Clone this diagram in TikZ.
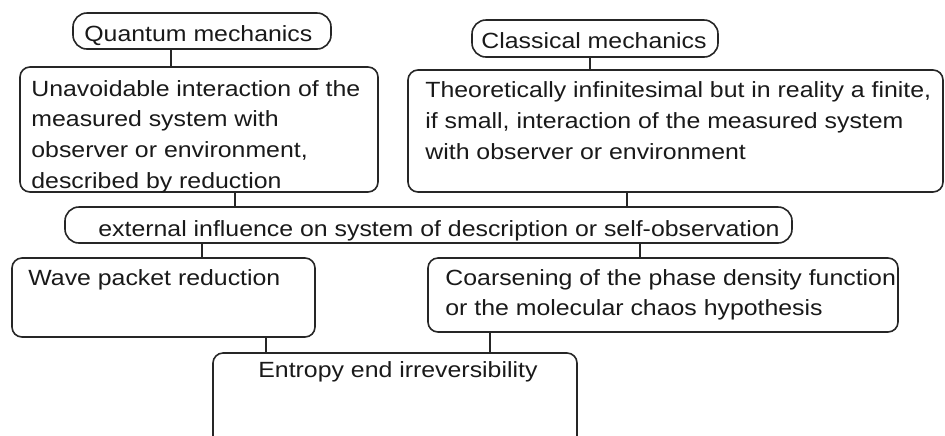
\documentclass[tikz,border=0pt]{standalone}
\usepackage{fontspec}
\setmainfont[FakeStretch=1.13]{Liberation Sans}
\usetikzlibrary{fit}
\begin{document}
\begin{tikzpicture}[x=0.5pt,y=-0.5pt,
  box/.style={draw=black!85, line width=0.8pt, rounded corners=5pt, inner sep=0pt},
  pill/.style={draw=black!85, line width=0.8pt, rounded corners=7pt, inner sep=0pt},
  txt/.style={anchor=base west, inner sep=0pt, text=black!90, font=\fontsize{11pt}{15pt}\selectfont},
  link/.style={draw=black!85, line width=0.8pt}]
\useasboundingbox (0,0) rectangle (945,435);
\clip (0,0) rectangle (945,435);
% boxes
\node[pill, fit={(73,13) (331,49)}] (q) {};
\node[pill, fit={(472,20) (718,57)}] (c) {};
\node[box, fit={(20,67) (378,192)}] (u) {};
\node[box, fit={(408,70) (943,192)}] (th) {};
\node[pill, fit={(65,207) (792,243)}] (e) {};
\node[box, fit={(12,258) (315,337)}] (w) {};
\node[box, fit={(428,258) (898,332)}] (co) {};
\node[box, fit={(213,353) (577,470)}] (en) {};
% texts
\node[txt] (tq) at (84,41) {Quantum mechanics};
\node[txt] (tc) at (481,48) {Classical mechanics};
\node[txt] (tu1) at (31,96) {Unavoidable interaction of the};
\node[txt] (tu2) at (31,126.7) {measured system with};
\node[txt] (tu3) at (31,157.4) {observer or environment,};
\node[txt] (tu4) at (31,188) {described by reduction};
\node[txt] (tt1) at (425,97) {Theoretically infinitesimal but in reality a finite,};
\node[txt] (tt2) at (425,128) {if small, interaction of the measured system};
\node[txt] (tt3) at (425,159) {with observer or environment};
\node[txt] (te) at (98,236) {external influence on system of description or self-observation};
\node[txt] (tw) at (28,285) {Wave packet reduction};
\node[txt] (tco1) at (445,285) {Coarsening of the phase density function};
\node[txt] (tco2) at (445,315) {or the molecular chaos hypothesis};
\node[txt] (ten) at (258,377) {Entropy end irreversibility};
% connectors
\draw[link] (171,0 |- q.south) -- (171,0 |- u.north);
\draw[link] (590,0 |- c.south) -- (590,0 |- th.north);
\draw[link] (235,0 |- u.south) -- (235,0 |- e.north);
\draw[link] (627,0 |- th.south) -- (627,0 |- e.north);
\draw[link] (202,0 |- e.south) -- (202,0 |- w.north);
\draw[link] (640,0 |- e.south) -- (640,0 |- co.north);
\draw[link] (266,0 |- w.south) -- (266,0 |- en.north);
\draw[link] (490,0 |- co.south) -- (490,0 |- en.north);
\end{tikzpicture}
\end{document}
